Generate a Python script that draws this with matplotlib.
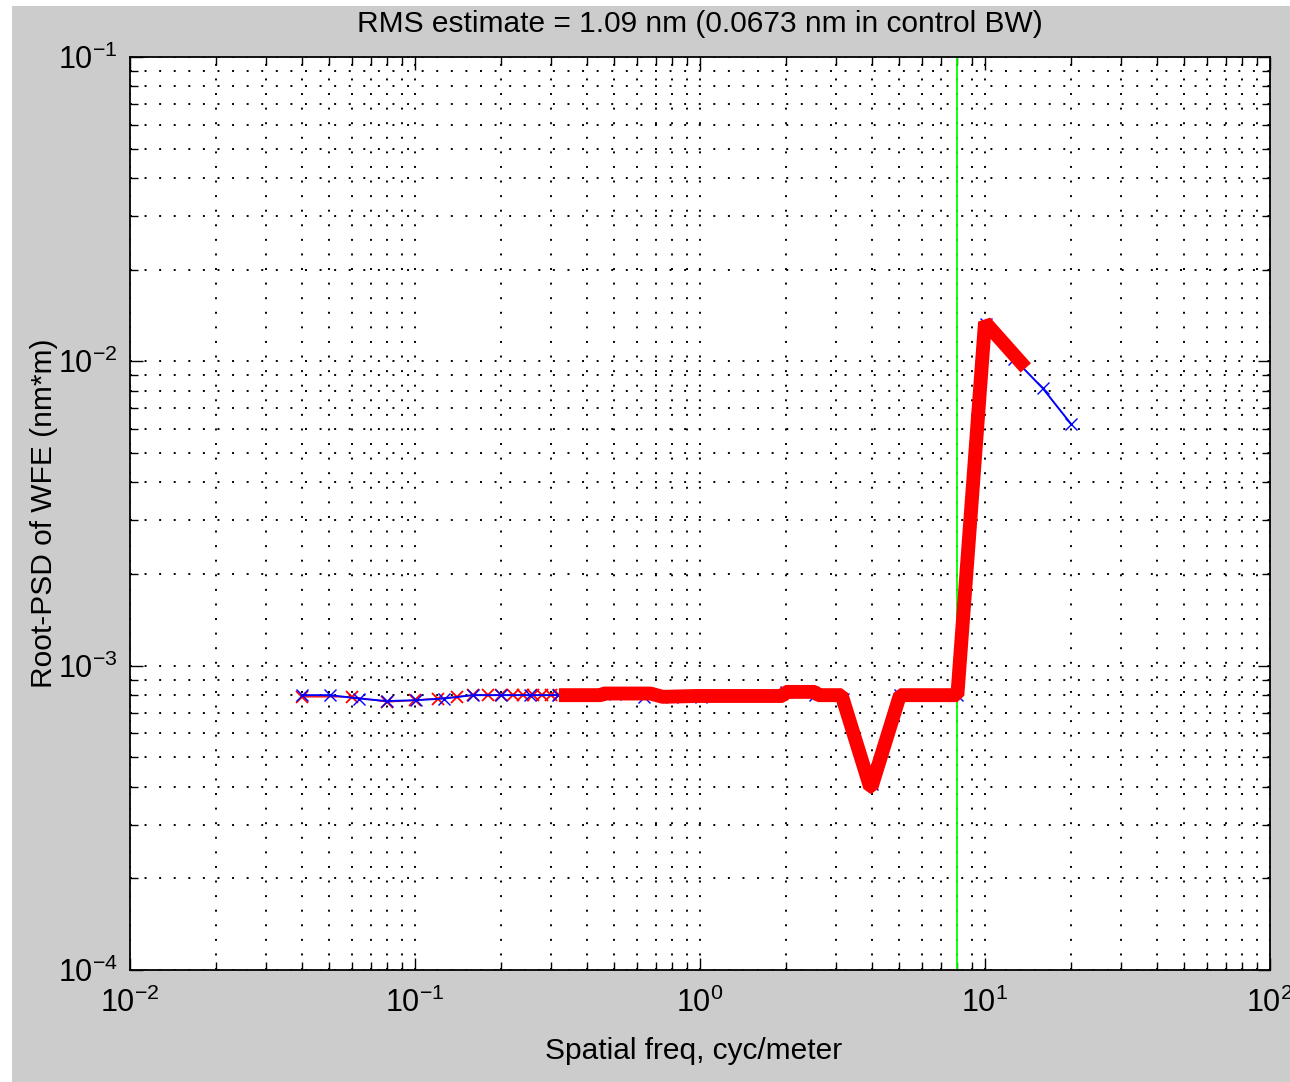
import matplotlib
matplotlib.use("Agg")
import matplotlib.pyplot as plt
from matplotlib.patches import Rectangle
from matplotlib.ticker import LogLocator, NullFormatter

plt.rcParams['font.family'] = ['Liberation Sans', 'DejaVu Sans']
plt.rcParams['mathtext.fontset'] = 'custom'
plt.rcParams['mathtext.rm'] = 'Liberation Sans'
plt.rcParams['mathtext.it'] = 'Liberation Sans:italic'
plt.rcParams['mathtext.bf'] = 'Liberation Sans:bold'
plt.rcParams['axes.unicode_minus'] = False

# raw PSD samples at the low-frequency end (red x)
raw_freq = [0.04, 0.06, 0.08, 0.10, 0.12, 0.14, 0.16, 0.18, 0.20,
            0.22, 0.24, 0.26, 0.28, 0.30, 0.32]
raw_psd = [0.00079, 0.00079, 0.00076, 0.00077, 0.00078, 0.00079, 0.00080, 0.00080, 0.00080,
           0.00080, 0.00080, 0.00080, 0.00080, 0.00080, 0.00080]

# log-binned PSD, 10 bins per decade (blue)
bin_freq = [0.04, 0.0504, 0.0634, 0.0798, 0.1005, 0.1265, 0.1592, 0.2005, 0.2524,
            0.3177, 0.4, 0.5036, 0.634, 0.7981, 1.005, 1.265, 1.592, 2.005,
            2.524, 3.177, 4.0, 5.036, 6.34, 7.981, 10.05, 12.65, 15.92, 20.05]
bin_psd = [0.00080, 0.00080, 0.00078, 0.000765, 0.00077, 0.00078, 0.00080, 0.00080, 0.00080,
           0.00080, 0.00080, 0.00081, 0.00079, 0.00079, 0.00079, 0.00080, 0.00080, 0.00082,
           0.00080, 0.00078, 0.00041, 0.00080, 0.00080, 0.00080, 0.0133, 0.0102, 0.00817, 0.00622]

# PSD inside the control band (thick red)
band_freq = [0.32, 0.45, 0.46, 0.67, 0.74, 0.97, 1.95, 2.0, 2.53, 2.6, 3.14,
             3.95, 4.0, 5.03, 8.0, 10.0, 13.9]
band_psd = [0.00080, 0.00080, 0.00081, 0.00081, 0.00079, 0.000795, 0.000795, 0.00082, 0.00082,
            0.00080, 0.00080, 0.00040, 0.00040, 0.00080, 0.00080, 0.01345, 0.00951]

ctrl_freq = 8.0
title = "RMS estimate = 1.09 nm (0.0673 nm in control BW)"

fig = plt.figure(figsize=(12.9, 10.82), dpi=100, facecolor='white')
fig.patches.append(Rectangle((12 / 1290, 0), 1, 1 - 6 / 1082, transform=fig.transFigure,
                             facecolor='#cccccc', edgecolor='none', zorder=-10))
ax = fig.add_axes([130 / 1290, 1 - 970 / 1082, 1140 / 1290, 913 / 1082])
ax.set_facecolor('white')

ax.axvline(ctrl_freq, color='#00ff00', lw=1.3, zorder=2)
ax.plot(raw_freq, raw_psd, color='red', marker='x', ms=9, mew=1.3, lw=1.0, zorder=3)
ax.plot(bin_freq, bin_psd, color='blue', marker='x', ms=8, mew=1.0, lw=1.4, zorder=4)
ax.plot(band_freq, band_psd, color='red', lw=10, solid_joinstyle='bevel',
        solid_capstyle='butt', zorder=5)

ax.set_xscale('log')
ax.set_yscale('log')
ax.set_xlim(1e-2, 1e2)
ax.set_ylim(1e-4, 1e-1)
for axis in (ax.xaxis, ax.yaxis):
    axis.set_major_locator(LogLocator(base=10, numticks=10))
    axis.set_minor_locator(LogLocator(base=10, subs=range(2, 10), numticks=20))
    axis.set_minor_formatter(NullFormatter())

# MATLAB-style dotted grid
ax.grid(which='both', color='black', linestyle=(0, (1, 6.5)), lw=1.4)
ax.tick_params(which='both', direction='in', top=True, right=True, width=1.0,
               labelsize=22, colors='black')
ax.tick_params(which='major', length=9)
ax.tick_params(axis='x', which='major', pad=13)
ax.tick_params(axis='y', which='major', pad=9)
ax.tick_params(which='minor', length=5.5)
for s in ax.spines.values():
    s.set_linewidth(1.3)

ax.set_title(title, fontsize=21.5, pad=18)
ax.set_xlabel("Spatial freq, cyc/meter", fontsize=21.5)
ax.set_ylabel("Root-PSD of WFE (nm*m)", fontsize=21.5)
ax.xaxis.set_label_coords(0.4947, -0.073)
ax.yaxis.set_label_coords(-0.063, 0.5)

fig.savefig('out.png', dpi=100, facecolor=fig.get_facecolor())
